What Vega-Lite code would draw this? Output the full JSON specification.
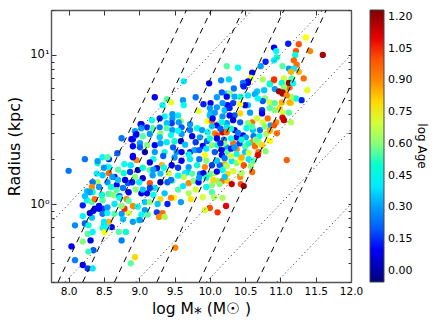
{"$schema":"https://vega.github.io/schema/vega-lite/v6.json","width":300,"height":272,"autosize":{"type":"none"},"padding":{"left":51,"top":10,"right":85,"bottom":45},"background":"white","config":{"font":"DejaVu Sans","view":{"stroke":null}},
"datasets":{"pts":[
{"m":8.0,"r":1.67,"a":0.25},{"m":8.23,"r":2.0,"a":0.25},{"m":8.75,"r":2.76,"a":0.25},{"m":8.69,"r":2.19,"a":0.2},{"m":8.48,"r":2.06,"a":0.42},{"m":8.57,"r":2.0,"a":0.15},{"m":8.41,"r":1.88,"a":0.5},{"m":8.57,"r":1.77,"a":0.45},{"m":8.48,"r":1.56,"a":0.35},{"m":8.57,"r":1.61,"a":0.95},{"m":8.65,"r":1.52,"a":0.1},{"m":8.41,"r":1.4,"a":0.65},{"m":8.34,"r":1.4,"a":0.25},{"m":8.33,"r":1.3,"a":0.9},{"m":8.43,"r":1.3,"a":0.3},{"m":8.55,"r":1.4,"a":0.3},{"m":8.68,"r":1.34,"a":0.1},{"m":8.26,"r":1.22,"a":0.35},{"m":8.34,"r":1.2,"a":0.5},{"m":8.47,"r":1.15,"a":0.4},{"m":8.57,"r":1.17,"a":0.55},{"m":8.68,"r":1.24,"a":0.55},{"m":8.77,"r":1.28,"a":0.25},{"m":8.84,"r":1.38,"a":0.2},{"m":8.78,"r":1.61,"a":0.5},{"m":8.87,"r":1.64,"a":0.15},{"m":8.94,"r":1.52,"a":0.6},{"m":8.98,"r":1.69,"a":0.05},{"m":8.79,"r":1.85,"a":0.45},{"m":8.88,"r":1.82,"a":0.4},{"m":8.96,"r":1.97,"a":0.9},{"m":8.91,"r":2.06,"a":0.1},{"m":8.91,"r":2.72,"a":0.1},{"m":8.95,"r":2.89,"a":0.2},{"m":9.01,"r":2.56,"a":0.3},
{"m":8.09,"r":0.72,"a":0.28},{"m":8.04,"r":0.52,"a":0.1},{"m":8.09,"r":0.42,"a":0.27},{"m":8.2,"r":0.39,"a":0.08},{"m":8.27,"r":0.37,"a":0.15},{"m":8.34,"r":0.37,"a":0.4},{"m":8.31,"r":0.57,"a":0.08},{"m":8.2,"r":0.56,"a":0.6},{"m":8.27,"r":0.63,"a":0.55},{"m":8.34,"r":0.65,"a":0.42},{"m":8.35,"r":0.49,"a":0.2},{"m":8.28,"r":0.48,"a":0.52},{"m":8.88,"r":0.4,"a":0.55},{"m":8.94,"r":0.44,"a":0.8},{"m":8.75,"r":0.57,"a":0.27},{"m":8.71,"r":0.65,"a":0.55},{"m":8.81,"r":0.65,"a":0.5},{"m":8.61,"r":0.7,"a":0.08},{"m":8.5,"r":0.72,"a":0.35},{"m":8.48,"r":0.69,"a":0.45},{"m":8.51,"r":0.65,"a":0.75},{"m":8.54,"r":0.7,"a":0.42},{"m":8.57,"r":0.76,"a":0.85},{"m":8.5,"r":0.76,"a":0.4},{"m":8.23,"r":0.74,"a":0.2},{"m":8.28,"r":0.72,"a":0.5},{"m":8.2,"r":0.83,"a":0.42},{"m":8.33,"r":0.81,"a":0.35},{"m":8.3,"r":0.87,"a":0.08},{"m":8.37,"r":0.93,"a":0.08},{"m":8.43,"r":0.97,"a":0.08},{"m":8.48,"r":0.93,"a":0.15},{"m":8.43,"r":0.93,"a":0.1},{"m":8.48,"r":0.86,"a":0.25},{"m":8.55,"r":0.87,"a":0.42},{"m":8.65,"r":0.86,"a":0.55},{"m":8.75,"r":0.86,"a":0.3},{"m":8.77,"r":0.79,"a":0.35},{"m":8.91,"r":0.76,"a":0.3},{"m":8.99,"r":0.78,"a":0.5},{"m":8.85,"r":0.87,"a":0.7},{"m":8.79,"r":0.93,"a":1.05},{"m":8.91,"r":0.97,"a":0.9},{"m":8.75,"r":0.97,"a":0.6},{"m":8.98,"r":0.96,"a":0.45},{"m":8.2,"r":0.98,"a":0.12},{"m":8.26,"r":1.06,"a":0.45},{"m":8.33,"r":1.03,"a":0.55},{"m":8.37,"r":1.08,"a":0.95},{"m":8.48,"r":1.06,"a":0.55},{"m":8.47,"r":1.15,"a":0.5},{"m":8.57,"r":1.17,"a":0.55},{"m":8.64,"r":1.15,"a":0.6},{"m":8.72,"r":1.13,"a":0.2},{"m":8.82,"r":1.08,"a":0.9},{"m":8.23,"r":1.13,"a":0.35},{"m":8.3,"r":1.2,"a":0.3},
{"m":9.22,"r":5.2,"a":0.1},{"m":9.39,"r":5.05,"a":0.55},{"m":9.45,"r":4.8,"a":0.72},{"m":9.33,"r":4.6,"a":0.45},{"m":9.62,"r":4.97,"a":0.3},{"m":9.63,"r":4.6,"a":0.45},{"m":9.8,"r":5.2,"a":0.25},{"m":9.91,"r":4.67,"a":0.12},{"m":10.01,"r":4.75,"a":0.08},{"m":9.99,"r":6.45,"a":0.1},{"m":9.63,"r":6.65,"a":0.4},{"m":9.84,"r":4.2,"a":0.72},{"m":9.47,"r":4.0,"a":0.3},{"m":9.55,"r":3.93,"a":0.4},{"m":9.47,"r":3.75,"a":0.3},{"m":9.36,"r":3.87,"a":0.42},{"m":9.29,"r":3.75,"a":0.12},{"m":9.18,"r":3.65,"a":0.45},{"m":9.59,"r":3.6,"a":0.62},{"m":9.56,"r":3.53,"a":0.3},{"m":9.46,"r":3.48,"a":0.15},{"m":9.39,"r":3.48,"a":0.35},{"m":9.29,"r":3.27,"a":0.25},{"m":9.03,"r":3.43,"a":0.1},{"m":9.11,"r":3.27,"a":0.12},{"m":9.19,"r":3.22,"a":0.55},{"m":9.3,"r":2.98,"a":0.6},{"m":9.39,"r":3.22,"a":0.55},{"m":9.47,"r":3.13,"a":0.3},{"m":9.6,"r":3.27,"a":0.2},{"m":9.72,"r":3.43,"a":0.3},{"m":9.82,"r":3.22,"a":0.45},{"m":9.72,"r":3.13,"a":0.25},{"m":9.89,"r":3.13,"a":0.3},{"m":9.97,"r":3.6,"a":0.75},{"m":10.03,"r":3.6,"a":0.95},{"m":10.01,"r":4.05,"a":0.32},{"m":10.07,"r":4.1,"a":0.3},{"m":10.1,"r":3.37,"a":0.1},{"m":10.03,"r":3.32,"a":0.35},{"m":10.07,"r":2.98,"a":0.9},{"m":10.1,"r":2.89,"a":1.0},{"m":9.97,"r":3.03,"a":0.45},{"m":9.96,"r":2.64,"a":0.2},{"m":9.86,"r":2.8,"a":0.3},{"m":9.59,"r":2.64,"a":0.08},{"m":9.5,"r":2.64,"a":0.5},{"m":9.39,"r":2.6,"a":0.4},{"m":9.29,"r":2.8,"a":0.35},{"m":9.22,"r":2.48,"a":0.1},{"m":9.11,"r":2.48,"a":0.6},{"m":9.08,"r":2.23,"a":0.02},{"m":9.22,"r":2.23,"a":0.3},{"m":9.36,"r":2.23,"a":0.5},{"m":9.53,"r":2.23,"a":0.3},{"m":9.6,"r":2.23,"a":0.08},{"m":9.72,"r":2.23,"a":0.12},{"m":9.79,"r":2.3,"a":0.3},{"m":9.93,"r":2.13,"a":0.75},{"m":10.03,"r":2.48,"a":0.6},{"m":10.07,"r":2.23,"a":0.2},{"m":10.11,"r":2.48,"a":0.5},
{"m":9.32,"r":1.82,"a":0.85},{"m":9.25,"r":1.74,"a":0.1},{"m":9.46,"r":1.82,"a":0.08},{"m":9.15,"r":1.69,"a":0.55},{"m":9.7,"r":1.77,"a":0.3},{"m":9.82,"r":1.82,"a":0.5},{"m":9.93,"r":1.77,"a":0.9},{"m":10.03,"r":1.82,"a":0.15},{"m":9.69,"r":1.64,"a":0.35},{"m":9.65,"r":1.61,"a":0.4},{"m":9.86,"r":1.59,"a":0.25},{"m":9.91,"r":1.61,"a":0.08},{"m":10.01,"r":1.59,"a":0.55},{"m":10.07,"r":1.61,"a":0.65},{"m":9.63,"r":1.52,"a":0.68},{"m":9.7,"r":1.38,"a":0.9},{"m":9.77,"r":1.43,"a":0.6},{"m":9.84,"r":1.4,"a":0.1},{"m":10.03,"r":1.34,"a":0.6},{"m":10.1,"r":1.43,"a":0.6},{"m":9.47,"r":1.43,"a":0.55},{"m":9.62,"r":1.32,"a":0.4},{"m":9.19,"r":1.56,"a":0.3},{"m":9.05,"r":1.49,"a":0.05},{"m":9.15,"r":1.38,"a":1.0},{"m":9.22,"r":1.28,"a":0.4},{"m":9.15,"r":1.28,"a":0.15},{"m":9.36,"r":1.18,"a":0.35},{"m":9.7,"r":1.18,"a":0.65},{"m":9.9,"r":1.11,"a":0.7},{"m":10.03,"r":1.2,"a":0.55},{"m":10.06,"r":1.11,"a":0.65},{"m":9.49,"r":1.1,"a":0.75},{"m":9.45,"r":1.1,"a":0.9},{"m":9.3,"r":1.08,"a":0.8},{"m":9.73,"r":1.08,"a":0.78},{"m":9.59,"r":1.03,"a":0.3},{"m":9.4,"r":1.0,"a":0.12},{"m":9.26,"r":1.0,"a":0.35},{"m":9.11,"r":1.18,"a":0.1},{"m":9.03,"r":1.18,"a":0.08},{"m":9.08,"r":1.03,"a":0.35},{"m":9.15,"r":1.03,"a":0.6},{"m":9.08,"r":0.91,"a":0.3},{"m":9.03,"r":0.85,"a":0.45},{"m":9.12,"r":0.85,"a":0.55},{"m":9.25,"r":0.88,"a":0.15},{"m":9.33,"r":0.87,"a":0.95},{"m":9.28,"r":0.82,"a":0.9},{"m":9.36,"r":0.82,"a":0.65},{"m":9.01,"r":0.78,"a":0.3},{"m":10.0,"r":0.94,"a":1.0},{"m":9.93,"r":0.91,"a":0.7},{"m":10.11,"r":0.88,"a":1.05},{"m":9.51,"r":0.51,"a":0.9},
{"m":10.34,"r":5.95,"a":0.25},{"m":10.47,"r":6.25,"a":0.25},{"m":10.54,"r":6.5,"a":0.08},{"m":10.67,"r":5.7,"a":0.35},{"m":10.77,"r":5.8,"a":0.35},{"m":10.85,"r":6.45,"a":0.5},{"m":11.02,"r":6.45,"a":0.65},{"m":11.11,"r":6.15,"a":0.9},{"m":10.91,"r":6.75,"a":1.0},{"m":10.24,"r":5.5,"a":0.35},{"m":10.17,"r":5.6,"a":0.2},{"m":10.28,"r":5.5,"a":0.6},{"m":10.24,"r":5.25,"a":0.1},{"m":10.35,"r":5.25,"a":0.32},{"m":10.43,"r":5.25,"a":0.5},{"m":10.92,"r":5.9,"a":0.3},{"m":10.98,"r":5.7,"a":1.2},{"m":11.03,"r":5.5,"a":1.15},{"m":11.09,"r":5.95,"a":0.85},{"m":11.13,"r":6.05,"a":0.95},{"m":11.16,"r":6.5,"a":1.2},{"m":10.78,"r":5.1,"a":0.6},{"m":10.75,"r":4.9,"a":0.2},{"m":10.85,"r":4.8,"a":0.7},{"m":10.92,"r":4.75,"a":0.55},{"m":11.02,"r":4.8,"a":0.85},{"m":11.15,"r":4.75,"a":0.8},{"m":10.64,"r":5.45,"a":0.32},{"m":10.54,"r":5.35,"a":0.4},{"m":10.68,"r":5.1,"a":0.45},{"m":10.54,"r":4.6,"a":0.35},{"m":10.5,"r":4.6,"a":0.08},{"m":10.43,"r":4.67,"a":0.75},{"m":10.33,"r":4.75,"a":0.15},{"m":10.25,"r":4.6,"a":0.1},{"m":10.18,"r":4.75,"a":0.3},{"m":10.21,"r":4.26,"a":0.35},{"m":10.28,"r":4.4,"a":0.12},{"m":10.74,"r":4.26,"a":0.15},{"m":10.74,"r":4.05,"a":0.1},{"m":10.85,"r":4.4,"a":0.55},{"m":10.92,"r":4.26,"a":0.6},{"m":10.99,"r":4.4,"a":0.8},{"m":11.03,"r":4.1,"a":0.7},{"m":11.12,"r":4.1,"a":0.55},{"m":11.3,"r":4.97,"a":0.12},{"m":10.43,"r":4.05,"a":0.8},{"m":10.57,"r":4.1,"a":0.3},{"m":10.35,"r":3.93,"a":0.2},{"m":10.28,"r":3.93,"a":0.1},{"m":10.18,"r":3.87,"a":0.3},{"m":10.6,"r":3.53,"a":0.95},{"m":10.54,"r":3.48,"a":0.6},{"m":10.67,"r":3.75,"a":0.7},{"m":10.82,"r":3.75,"a":0.95},{"m":10.75,"r":3.53,"a":0.7},{"m":10.94,"r":3.53,"a":0.9},{"m":11.03,"r":3.8,"a":1.1},{"m":11.05,"r":3.65,"a":1.15},{"m":11.15,"r":3.53,"a":0.65},{"m":10.86,"r":3.37,"a":0.3},{"m":10.91,"r":3.37,"a":1.0},{"m":10.71,"r":3.13,"a":0.25},{"m":10.61,"r":3.13,"a":0.35},{"m":10.52,"r":3.22,"a":0.45},{"m":10.43,"r":3.53,"a":0.2},{"m":10.33,"r":3.65,"a":0.1},{"m":10.24,"r":3.48,"a":0.3},{"m":10.17,"r":3.53,"a":0.5},{"m":10.35,"r":3.13,"a":0.08},{"m":10.47,"r":2.89,"a":0.1},{"m":10.38,"r":2.8,"a":0.08},{"m":10.24,"r":3.27,"a":0.4},{"m":10.18,"r":3.03,"a":1.15},{"m":10.24,"r":3.03,"a":0.95},{"m":10.51,"r":2.8,"a":0.3},{"m":10.6,"r":2.6,"a":0.9},{"m":10.64,"r":2.44,"a":0.95},{"m":10.69,"r":2.6,"a":0.62},{"m":10.74,"r":2.48,"a":0.8},{"m":10.69,"r":2.23,"a":0.95},{"m":10.79,"r":2.26,"a":0.6},{"m":10.95,"r":2.98,"a":0.95},{"m":10.68,"r":2.13,"a":1.1},{"m":10.24,"r":2.4,"a":0.3},{"m":10.17,"r":2.3,"a":0.08},{"m":10.25,"r":2.23,"a":0.55},{"m":10.38,"r":2.33,"a":0.9},{"m":10.33,"r":2.56,"a":0.95},{"m":10.5,"r":2.44,"a":0.55},{"m":10.5,"r":2.23,"a":0.35},{"m":10.38,"r":2.16,"a":0.45},{"m":10.17,"r":2.13,"a":0.1},{"m":10.21,"r":2.03,"a":0.25},
{"m":10.33,"r":1.66,"a":0.7},{"m":10.25,"r":1.59,"a":0.8},{"m":10.18,"r":1.43,"a":0.95},{"m":10.25,"r":1.43,"a":0.8},{"m":10.21,"r":1.52,"a":0.35},{"m":10.14,"r":1.36,"a":0.6},{"m":10.43,"r":1.52,"a":0.9},{"m":10.45,"r":1.61,"a":0.65},{"m":10.6,"r":1.64,"a":0.95},{"m":10.58,"r":1.8,"a":0.6},{"m":10.48,"r":1.82,"a":1.0},{"m":10.31,"r":1.36,"a":1.15},{"m":10.44,"r":1.36,"a":1.0},{"m":10.48,"r":1.32,"a":1.2},{"m":10.18,"r":1.1,"a":0.65},{"m":10.23,"r":0.97,"a":1.1},{"m":10.31,"r":1.94,"a":0.4},{"m":10.21,"r":1.85,"a":0.85},{"m":10.14,"r":1.82,"a":0.2},{"m":10.24,"r":1.8,"a":0.65},{"m":10.18,"r":1.69,"a":0.45},{"m":10.38,"r":1.88,"a":0.6},{"m":10.43,"r":1.97,"a":0.75},{"m":11.09,"r":1.97,"a":0.98},
{"m":11.36,"r":13.1,"a":0.75},{"m":11.11,"r":11.9,"a":0.12},{"m":11.26,"r":11.8,"a":1.0},{"m":11.6,"r":10.0,"a":1.18},{"m":11.42,"r":10.6,"a":0.9},{"m":11.22,"r":10.6,"a":1.0},{"m":11.21,"r":10.0,"a":0.48},{"m":11.03,"r":8.4,"a":0.55},{"m":11.19,"r":9.2,"a":0.97},{"m":11.23,"r":8.6,"a":0.95},{"m":11.26,"r":7.7,"a":0.85},{"m":11.12,"r":8.1,"a":0.3},{"m":11.19,"r":8.1,"a":0.4},{"m":11.15,"r":7.7,"a":0.85},{"m":11.33,"r":6.95,"a":0.95},{"m":11.38,"r":5.8,"a":0.72},{"m":11.22,"r":5.1,"a":0.5},{"m":11.15,"r":5.2,"a":0.65},{"m":11.13,"r":4.8,"a":0.85},{"m":11.05,"r":6.95,"a":0.7},{"m":11.16,"r":6.95,"a":0.55},{"m":11.02,"r":6.5,"a":0.5},{"m":11.12,"r":6.5,"a":1.2},{"m":11.18,"r":6.45,"a":0.45},{"m":11.05,"r":6.05,"a":0.6},{"m":11.03,"r":5.6,"a":1.18},{"m":11.09,"r":5.35,"a":0.9},{"m":10.91,"r":11.2,"a":0.1},{"m":10.94,"r":10.6,"a":0.42},{"m":10.95,"r":9.6,"a":0.5},{"m":10.91,"r":9.2,"a":0.4},{"m":10.79,"r":9.0,"a":0.12},{"m":10.72,"r":8.4,"a":0.3},{"m":10.6,"r":7.6,"a":0.1},{"m":10.58,"r":7.0,"a":0.72},{"m":10.54,"r":6.65,"a":0.1},{"m":10.47,"r":6.5,"a":0.25},{"m":10.48,"r":6.15,"a":0.12},{"m":10.4,"r":8.2,"a":0.45},{"m":10.24,"r":8.4,"a":0.55},{"m":10.16,"r":6.75,"a":0.28},{"m":10.27,"r":6.85,"a":0.38},{"m":10.75,"r":6.85,"a":0.65},{"m":10.91,"r":6.85,"a":1.05},{"m":10.85,"r":6.35,"a":0.5},{"m":10.1,"r":5.2,"a":0.3},{"m":10.1,"r":4.45,"a":0.3},{"m":10.0,"r":4.4,"a":0.3},{"m":10.0,"r":3.93,"a":0.35},{"m":10.04,"r":3.75,"a":0.1},{"m":8.94,"r":3.08,"a":0.3},{"m":9.02,"r":3.43,"a":0.1},{"m":8.96,"r":2.94,"a":0.1},{"m":8.89,"r":2.72,"a":0.1},{"m":9.03,"r":3.22,"a":0.3},{"m":8.91,"r":2.44,"a":0.1},{"m":9.01,"r":2.4,"a":0.2},{"m":8.91,"r":2.1,"a":0.1},{"m":8.55,"r":2.06,"a":0.55},{"m":8.41,"r":1.94,"a":0.3},
{"m":9.2,"r":2.0,"a":0.45},{"m":9.34,"r":2.1,"a":0.2},{"m":9.5,"r":2.05,"a":0.3},{"m":9.6,"r":1.95,"a":0.1},{"m":9.72,"r":2.0,"a":0.4},{"m":9.85,"r":2.0,"a":0.25},{"m":9.95,"r":1.95,"a":0.6},{"m":10.1,"r":1.95,"a":0.35},{"m":9.15,"r":1.9,"a":0.08},{"m":9.05,"r":1.75,"a":0.5},{"m":9.3,"r":1.6,"a":0.35},{"m":9.42,"r":1.6,"a":0.7},{"m":9.55,"r":1.75,"a":0.15},{"m":9.55,"r":1.55,"a":0.42},{"m":9.75,"r":1.6,"a":0.55},{"m":9.4,"r":1.4,"a":0.2},{"m":9.3,"r":1.4,"a":0.02},{"m":9.2,"r":1.15,"a":0.45},{"m":9.95,"r":1.3,"a":0.45},{"m":9.9,"r":2.45,"a":0.1},{"m":9.65,"r":2.5,"a":0.35},{"m":9.8,"r":2.6,"a":0.15},{"m":10.0,"r":2.75,"a":0.5},{"m":10.1,"r":2.75,"a":0.08},{"m":10.2,"r":2.7,"a":0.25},{"m":10.3,"r":2.75,"a":0.45},{"m":10.2,"r":2.55,"a":0.6},{"m":10.42,"r":2.55,"a":0.15},{"m":10.55,"r":2.55,"a":0.5},{"m":10.62,"r":2.85,"a":0.25},{"m":10.7,"r":2.85,"a":0.45},{"m":10.8,"r":2.95,"a":0.65},{"m":10.85,"r":2.65,"a":0.75},{"m":10.3,"r":2.1,"a":0.7},{"m":10.45,"r":2.05,"a":0.85},{"m":10.55,"r":2.0,"a":0.4},{"m":10.62,"r":1.95,"a":0.55},{"m":10.3,"r":2.35,"a":0.12},{"m":9.45,"r":2.9,"a":0.45},{"m":9.6,"r":2.95,"a":0.3},{"m":9.15,"r":2.95,"a":0.3},{"m":9.05,"r":2.85,"a":0.55},{"m":9.48,"r":2.4,"a":0.2},{"m":8.72,"r":1.1,"a":0.45},{"m":8.85,"r":1.2,"a":0.1},{"m":8.95,"r":1.25,"a":0.6},{"m":9.05,"r":1.25,"a":0.35},{"m":8.62,"r":1.52,"a":0.3},{"m":8.8,"r":1.45,"a":0.08},{"m":9.0,"r":1.4,"a":0.4},
{"m":8.4,"r":1.6,"a":0.4},{"m":8.5,"r":1.75,"a":0.3},{"m":8.7,"r":1.7,"a":0.55},{"m":8.6,"r":1.3,"a":0.5},{"m":8.7,"r":1.45,"a":0.35},{"m":8.9,"r":1.4,"a":0.12},{"m":8.85,"r":1.05,"a":0.55},{"m":8.65,"r":1.0,"a":0.4},{"m":8.55,"r":0.95,"a":0.3},{"m":8.35,"r":0.9,"a":0.1},{"m":9.2,"r":1.7,"a":0.3},{"m":9.35,"r":1.75,"a":0.45},{"m":9.45,"r":1.45,"a":0.25},{"m":9.55,"r":1.25,"a":0.55},{"m":9.8,"r":1.25,"a":0.7},{"m":9.85,"r":1.5,"a":0.3},{"m":9.95,"r":1.5,"a":0.5},{"m":10.1,"r":1.65,"a":0.1},{"m":10.05,"r":1.45,"a":0.8},{"m":9.7,"r":2.15,"a":0.45},{"m":9.85,"r":2.3,"a":0.2},{"m":9.95,"r":2.35,"a":0.4},{"m":10.15,"r":2.55,"a":0.12},{"m":10.35,"r":2.4,"a":0.3},{"m":10.45,"r":2.7,"a":0.5},{"m":10.55,"r":2.2,"a":0.7},{"m":10.65,"r":2.7,"a":0.6},{"m":10.78,"r":3.3,"a":0.6},{"m":10.4,"r":3.0,"a":0.25},{"m":10.3,"r":3.2,"a":0.5},{"m":10.15,"r":3.2,"a":0.2},{"m":10.6,"r":3.3,"a":0.55},{"m":10.85,"r":3.1,"a":0.85},{"m":9.75,"r":2.85,"a":0.1},{"m":9.55,"r":3.1,"a":0.45},{"m":9.3,"r":2.55,"a":0.3}
],"dotted":[{"g":"a","m":7.75,"r":0.75},{"g":"a","m":10.6,"r":20},{"g":"b","m":7.95,"r":0.3},{"g":"b","m":11.6,"r":20},{"g":"c","m":8.95,"r":0.3},{"g":"c","m":12,"r":10},{"g":"d","m":9.95,"r":0.3},{"g":"d","m":12,"r":3.16},{"g":"e","m":10.95,"r":0.3},{"g":"e","m":12,"r":1}],
"dashed":[{"g":"a","m":7.85,"r":0.3},{"g":"a","m":9.67,"r":20},{"g":"b","m":8.2,"r":0.3},{"g":"b","m":10.02,"r":20},{"g":"c","m":8.65,"r":0.3},{"g":"c","m":10.47,"r":20},{"g":"d","m":9.25,"r":0.3},{"g":"d","m":11.05,"r":20},{"g":"e","m":9.85,"r":0.3},{"g":"e","m":11.65,"r":20},{"g":"f","m":10.67,"r":0.3},{"g":"f","m":12,"r":6.3}]},
"layer":[
{"data":{"name":"pts"},"mark":{"type":"circle","size":40,"opacity":1},"encoding":{
"x":{"field":"m","type":"quantitative","scale":{"domain":[7.75,12],"nice":false,"zero":false},"axis":{"orient":"bottom","title":"log M⁎  (M☉ )","titleFontSize":15.5,"titleFontWeight":"normal","titleColor":"#000","titlePadding":5,"values":[8,8.5,9,9.5,10,10.5,11,11.5,12],"format":".1f","tickSize":-5,"tickColor":"#333","labelFontSize":10.5,"labelColor":"#000","labelPadding":9,"labelFlush":false,"labelBound":false,"labelOverlap":false,"grid":false,"domainColor":"#555","domainWidth":1.4}},
"y":{"field":"r","type":"quantitative","scale":{"type":"log","domain":[0.3,20],"nice":false},"axis":{"orient":"left","title":"Radius (kpc)","titleFontSize":16,"titleFontWeight":"normal","titleColor":"#000","titlePadding":7,"values":[1,10],"labelExpr":"datum.value==1?'10⁰':'10¹'","tickSize":-5,"tickColor":"#333","labelFontSize":11.5,"labelColor":"#000","labelPadding":7,"grid":false,"domainColor":"#555","domainWidth":1.4}},
"color":{"field":"a","type":"quantitative","scale":{"domain":[-0.053,1.233],"range":["#00007f","#0000ff","#007fff","#00ffff","#7fff7f","#ffff00","#ff7f00","#ff0000","#7f0000"]},"legend":{"orient":"none","legendX":319,"legendY":0,"direction":"vertical","gradientLength":272,"gradientThickness":14,"gradientStrokeColor":"#444","gradientStrokeWidth":1,"values":[0,0.15,0.3,0.45,0.6,0.75,0.9,1.05,1.2],"format":".2f","labelFontSize":11,"labelColor":"#000","labelOffset":4,"labelOverlap":false,"title":"log Age","titleOrient":"right","titleAnchor":"middle","titleFontSize":12,"titleFontWeight":"normal","titleColor":"#000","titleAngle":270,"titlePadding":3}}}},
{"data":{"name":"dotted"},"mark":{"type":"line","clip":true,"color":"#222","strokeWidth":1,"strokeDash":[1,3]},"encoding":{"detail":{"field":"g"},
"x":{"field":"m","type":"quantitative","scale":{"domain":[7.75,12],"nice":false,"zero":false},"axis":{"orient":"top","title":null,"labels":false,"values":[8,8.5,9,9.5,10,10.5,11,11.5,12],"tickSize":-5,"tickColor":"#333","grid":false,"domainColor":"#555","domainWidth":1.4}},
"y":{"field":"r","type":"quantitative","scale":{"type":"log","domain":[0.3,20],"nice":false},"axis":{"orient":"left","title":null,"labels":false,"values":[0.3,0.4,0.5,0.6,0.7,0.8,0.9,2,3,4,5,6,7,8,9,20],"tickSize":-3,"tickColor":"#333","grid":false,"domain":false}}}},
{"data":{"name":"dashed"},"mark":{"type":"line","clip":true,"color":"#000","strokeWidth":1,"strokeDash":[6,5]},"encoding":{"detail":{"field":"g"},
"x":{"field":"m","type":"quantitative","scale":{"domain":[7.75,12],"nice":false,"zero":false},"axis":null},
"y":{"field":"r","type":"quantitative","scale":{"type":"log","domain":[0.3,20],"nice":false},"axis":{"orient":"right","title":null,"labels":false,"values":[0.3,0.4,0.5,0.6,0.7,0.8,0.9,1,2,3,4,5,6,7,8,9,10,20],"tickSize":-3,"tickColor":"#333","grid":false,"domainColor":"#555","domainWidth":1.4}}}}
],"resolve":{"axis":{"x":"independent","y":"independent"}}}
